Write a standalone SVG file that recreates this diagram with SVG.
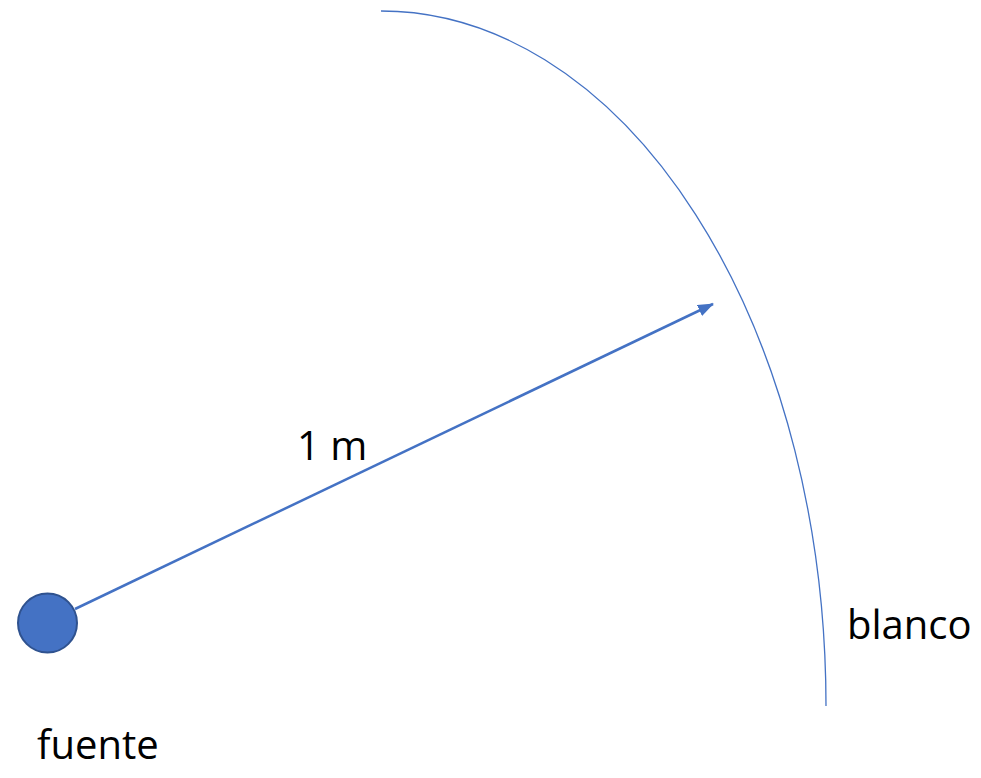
<svg xmlns="http://www.w3.org/2000/svg" width="981" height="778" viewBox="0 0 981 778">
<style>
.lbl{font-family:"Open Sans","Noto Sans","Liberation Sans",sans-serif;font-size:40px;fill:#000}
.conn{stroke:#4472C4;fill:none}
</style>
<defs>
<marker id="ah" markerWidth="16" markerHeight="12" refX="15" refY="6" orient="auto" markerUnits="userSpaceOnUse" viewBox="0 0 16 12">
<path d="M0,0 L16,6 L0,12 Z" fill="#4472C4"/>
</marker>
</defs>
<rect width="981" height="778" fill="#fff"/>
<g id="connectors">
<path id="blanco-arc" class="conn" stroke-width="1.3" d="M381,11 A445,695 0 0 1 826,706"/>
<line id="radius" class="conn" stroke-width="2.5" x1="75" y1="609" x2="713" y2="304" marker-end="url(#ah)"/>
</g>
<g id="fuente">
<circle cx="47.5" cy="623" r="29.5" fill="#4472C4" stroke="#2F528F" stroke-width="2"/>
<text class="lbl" x="37" y="759">fuente</text>
</g>
<g id="label-1m">
<text class="lbl" x="297" y="460">1 m</text>
</g>
<g id="blanco">
<text class="lbl" x="847" y="639">blanco</text>
</g>
</svg>
